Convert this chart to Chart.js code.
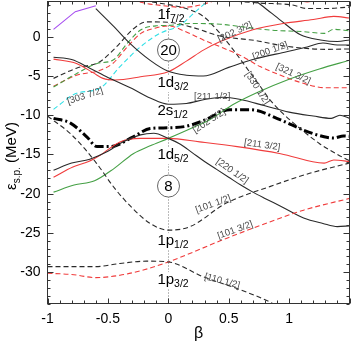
<!DOCTYPE html>
<html>
<head>
<meta charset="utf-8">
<script src="https://cdn.jsdelivr.net/npm/chart.js@4.4.1/dist/chart.umd.min.js"></script>
<style>
  html, body { margin: 0; padding: 0; background: #fff; }
</style>
</head>
<body>
<canvas id="nilsson" width="351" height="345"></canvas>
<script>
// Nilsson-type diagram: single-particle energy (MeV) against deformation beta.
// Each orbit is kept as a pair of arrays (beta, energy).

const xTicks = [-1, -0.5, 0, 0.5, 1];
const yTicks = [0, -5, -10, -15, -20, -25, -30];

const purpleBeta = [-0.95, -0.77, -0.6];
const purpleE = [0.95, 3.2, 3.95];

const s200Beta = [-0.6, -0.45, -0.32, -0.15, 0, 0.15, 0.29, 0.5, 0.7, 0.98, 1.15, 1.28, 1.4, 1.5];
const s200E = [3.6, 1.3, -0.8, -3.0, -4.4, -4.9, -5.0, -3.9, -2.9, -1.9, -1.3, -0.8, -1.05, -1.05];

const s211Beta = [-0.95, -0.8, -0.65, -0.5, -0.3, -0.15, 0, 0.15, 0.3, 0.45, 0.6, 0.8, 1.0, 1.2, 1.35, 1.42, 1.5];
const s211E = [-2.6, -2.9, -4.0, -5.2, -6.6, -7.8, -8.6, -8.5, -8.0, -7.7, -8.0, -8.8, -9.6, -10.1, -10.4, -10.0, -10.4];

const d202Beta = [-0.95, -0.76, -0.62, -0.54, -0.44, -0.23, 0, 0.15, 0.29, 0.43, 0.7, 0.95, 1.2, 1.37, 1.5];
const d202E = [-2.85, -3.4, -4.6, -5.3, -5.5, -5.1, -4.45, -3.1, -1.7, -0.6, 0.9, 1.7, 2.2, 2.6, 2.4];

const humpBeta = [-0.95, -0.76, -0.57, -0.43, -0.29, -0.18, 0, 0.2, 0.43, 0.73, 0.93, 1.12, 1.3, 1.5];
const humpE = [-5.3, -4.0, -3.2, -1.3, 1.0, 1.9, 1.85, 1.2, 0.1, -0.5, -1.1, -1.45, -1.6, -1.55];

const f321Beta = [-0.95, -0.76, -0.57, -0.46, -0.34, -0.23, -0.11, 0, 0.15, 0.29, 0.45, 0.6, 0.76, 0.93, 1.09, 1.31, 1.5];
const f321E = [-6.3, -4.9, -4.3, -3.4, -1.3, 0.4, 1.1, 1.4, 0.6, -0.4, -1.4, -2.4, -3.8, -4.9, -5.8, -6.5, -6.5];

const greenDashBeta = [-0.95, -0.76, -0.59, -0.46, -0.34, -0.23, -0.1, 0, 0.18, 0.43, 0.7, 0.85, 1.12, 1.29, 1.37, 1.5];
const greenDashE = [-6.4, -4.7, -3.4, -3.0, -0.84, 0.86, 1.4, 1.45, 1.7, 1.6, 1.1, 0.85, 0.65, 0.44, 0.95, 0.75];

const f303Beta = [-0.95, -0.76, -0.57, -0.4, -0.23, -0.07, 0.1, 0.21, 0.33];
const f303E = [-9.25, -7.2, -6.6, -3.8, -1.27, 0.44, 1.5, 3.0, 4.6];

const fermiBeta = [-0.95, -0.81, -0.675, -0.59, -0.48, -0.29, -0.15, 0, 0.15, 0.29, 0.51, 0.68, 0.93, 1.12, 1.29, 1.37, 1.45, 1.5];
const fermiE = [-10.4, -11.0, -12.75, -14.0, -14.0, -12.75, -11.7, -11.6, -11.4, -10.7, -9.3, -9.3, -10.6, -11.9, -12.75, -12.9, -12.65, -12.7];

const p101Beta = [-1, -0.8, -0.6, -0.45, -0.3, -0.15, 0, 0.18, 0.48, 0.84, 1.17, 1.5];
const p101E = [-10.1, -12.5, -16.0, -19.2, -21.8, -23.8, -24.65, -24.2, -21.2, -19.1, -17.4, -16.1];

const d220Beta = [-0.95, -0.8, -0.65, -0.5, -0.4, -0.23, -0.12, 0, 0.1, 0.2, 0.3, 0.4, 0.5, 0.6, 0.7, 0.8, 0.93, 1.12, 1.28, 1.4, 1.5];
const d220E = [-17.0, -16.1, -15.6, -14.6, -13.6, -12.5, -12.3, -12.95, -13.7, -14.8, -15.9, -16.9, -17.9, -18.9, -19.8, -20.6, -21.6, -23.1, -23.8, -24.2, -24.1];

const d211Beta = [-0.95, -0.79, -0.66, -0.565, -0.4, -0.23, 0, 0.26, 0.57, 0.93, 1.29, 1.37, 1.5];
const d211E = [-17.9, -16.6, -15.9, -15.1, -13.4, -12.95, -12.95, -13.4, -14.0, -14.9, -16.1, -15.7, -15.9];

const d205Beta = [-0.95, -0.78, -0.61, -0.45, -0.29, -0.15, 0, 0.2, 0.35, 0.54, 0.75, 1.0, 1.25, 1.5];
const d205E = [-19.8, -18.9, -18.35, -16.8, -14.9, -13.9, -12.95, -11.6, -10.5, -8.6, -7.0, -5.4, -4.1, -3.0];

const p103Beta = [-1, -0.8, -0.6, -0.4, -0.2, 0, 0.48, 0.84, 1.12, 1.5];
const p103E = [-30.15, -30.3, -30.7, -30.4, -29.7, -28.7, -25.7, -23.6, -22.1, -20.6];

const p110Beta = [-1, -0.6, -0.4, -0.18, 0, 0.29, 0.57, 0.84, 0.9];
const p110E = [-29.3, -29.3, -28.9, -28.6, -28.7, -30.6, -32.1, -33.8, -34.3];

const f330Beta = [-0.2, 0, 0.15, 0.29, 0.43, 0.54, 0.65, 0.76, 0.84, 0.95, 1.1, 1.25, 1.4, 1.5];
const f330E = [4.6, 4.1, 3.6, 2.6, 0.4, -1.7, -4.0, -6.3, -8.0, -9.8, -11.8, -13.6, -15.0, -15.8];

const f7TopBeta = [-0.3, -0.2, 0, 0.1, 0.2, 0.3, 0.4];
const f7TopE = [4.7, 4.3, 3.9, 3.75, 3.85, 4.2, 4.7];

const topSolidBeta = [0.72, 0.79, 0.93, 1.09, 1.26, 1.4, 1.5];
const topSolidE = [4.6, 3.8, 2.1, 0.3, -0.4, -0.6, -0.4];

const topDashBeta = [0.5, 0.76, 1.03, 1.15, 1.31, 1.5];
const topDashE = [4.6, 4.3, 4.05, 3.6, 3.6, 3.8];

const topRedBeta = [1.02, 1.15, 1.28];
const topRedE = [4.9, 4.45, 4.9];

// spherical levels written on the beta = 0 line
const levelNames = ['1f', '1d', '2s', '1d', '1p', '1p'];
const levelSubs = ['7/2', '3/2', '1/2', '5/2', '1/2', '3/2'];
const levelE = [2.33, -6.4, -9.98, -15.59, -26.56, -31.53];

const magicNumbers = ['20', '8'];
const magicE = [-1.69, -19.03];

// asymptotic quantum numbers written along the orbits
const orbitNames = ['[303 7/2]', '[202 3/2]', '[200 1/2]', '[321 3/2]', '[330 1/2]', '[211 1/2]',
                    '[202 5/2]', '[211 3/2]', '[220 1/2]', '[101 1/2]', '[101 3/2]', '[110 1/2]'];
const orbitBeta = [-0.689, 0.553, 0.843, 1.034, 0.736, 0.363, 0.338, 0.777, 0.529, 0.371, 0.553, 0.446];
const orbitE = [-7.55, 0.6, -1.81, -4.75, -6.53, -7.55, -10.74, -13.8, -17.12, -21.33, -24.65, -31.15];
const orbitAngle = [-18, -25, -20, 25, 57, 0, -33, 8, 35, -20, -20, 15];

const FONT = '"Liberation Sans", Arial, Helvetica, sans-serif';
const BLACK = '#2a2a2a';
const RED = '#f03c3c';
const GREEN = '#45a045';
const CYAN = '#2fe0e6';
const PURPLE = '#a64df0';
const DASH = [5, 3];

function curve(beta, energy, color, dash, width, straight) {
    return {
        data: beta.map((b, i) => ({ x: b, y: energy[i] })),
        borderColor: color,
        borderDash: dash || [],
        borderWidth: width || 1.1,
        showLine: true,
        pointRadius: 0,
        fill: false,
        tension: straight ? 0 : 0.4,
        cubicInterpolationMode: straight ? 'default' : 'monotone'
    };
}

// Draw a level label like 1d with a smaller subscript 3/2
function levelText(ctx, px, py, main, sub, measureOnly) {
    ctx.font = '15px ' + FONT;
    const w1 = ctx.measureText(main).width;
    ctx.font = '10.5px ' + FONT;
    const w2 = ctx.measureText(sub).width;
    if (!measureOnly) {
        ctx.fillStyle = '#000';
        ctx.textBaseline = 'alphabetic';
        ctx.textAlign = 'left';
        ctx.font = '15px ' + FONT;
        ctx.fillText(main, px, py);
        ctx.font = '10.5px ' + FONT;
        ctx.fillText(sub, px + w1, py + 3);
    }
    return w1 + w2;
}

const decorations = {
    id: 'decorations',
    beforeDatasetsDraw(chart) {
        const { ctx, chartArea: a, scales: { x, y } } = chart;
        const x0 = Math.round(x.getPixelForValue(0)) + 0.5;
        ctx.save();
        // dotted line at beta = 0
        ctx.strokeStyle = '#777';
        ctx.lineWidth = 1;
        ctx.setLineDash([1, 2]);
        ctx.beginPath();
        ctx.moveTo(x0, a.top);
        ctx.lineTo(x0, a.bottom);
        ctx.stroke();
        ctx.setLineDash([]);
        // white patches where labels sit on the dotted line
        ctx.fillStyle = '#fff';
        const lx = x.getPixelForValue(-0.09);
        levelNames.forEach((name, i) => {
            const py = y.getPixelForValue(levelE[i]);
            const w = levelText(ctx, lx, py, name, levelSubs[i], true);
            ctx.fillRect(lx - 1, py - 12, w + 2, 17);
        });
        magicNumbers.forEach((m, i) => {
            ctx.beginPath();
            ctx.arc(x0, y.getPixelForValue(magicE[i]), 11, 0, Math.PI * 2);
            ctx.fill();
        });
        ctx.restore();
    },
    afterDatasetsDraw(chart) {
        const { ctx, scales: { x, y } } = chart;
        const x0 = Math.round(x.getPixelForValue(0)) + 0.5;
        ctx.save();
        const lx = x.getPixelForValue(-0.09);
        levelNames.forEach((name, i) => {
            levelText(ctx, lx, y.getPixelForValue(levelE[i]), name, levelSubs[i], false);
        });
        magicNumbers.forEach((m, i) => {
            const py = y.getPixelForValue(magicE[i]);
            ctx.strokeStyle = '#666';
            ctx.lineWidth = 1;
            ctx.beginPath();
            ctx.arc(x0, py, 11, 0, Math.PI * 2);
            ctx.stroke();
            ctx.fillStyle = '#000';
            ctx.font = '15px ' + FONT;
            ctx.textAlign = 'center';
            ctx.textBaseline = 'middle';
            ctx.fillText(m, x0, py + 1);
        });
        // orbit labels
        ctx.fillStyle = '#4a4a4a';
        ctx.font = '9.5px ' + FONT;
        ctx.textAlign = 'center';
        ctx.textBaseline = 'middle';
        orbitNames.forEach((name, i) => {
            ctx.save();
            ctx.translate(x.getPixelForValue(orbitBeta[i]), y.getPixelForValue(orbitE[i]));
            ctx.rotate(orbitAngle[i] * Math.PI / 180);
            ctx.fillText(name, 0, 0);
            ctx.restore();
        });
        ctx.restore();
    },
    afterDraw(chart) {
        const { ctx, chartArea: a, scales: { x, y } } = chart;
        ctx.save();
        ctx.strokeStyle = '#333';
        ctx.lineWidth = 1;
        ctx.strokeRect(a.left, a.top, a.right - a.left, a.bottom - a.top);
        // inward ticks on all four sides
        ctx.beginPath();
        for (let k = 0; k <= 25; k++) {
            const v = -1 + k * 0.1;
            const len = k % 5 === 0 ? 5 : 3;
            const px = Math.round(x.getPixelForValue(v)) + 0.5;
            ctx.moveTo(px, a.bottom); ctx.lineTo(px, a.bottom - len);
            ctx.moveTo(px, a.top); ctx.lineTo(px, a.top + len);
        }
        for (let v = -34; v <= 4; v++) {
            const len = v % 5 === 0 ? 6 : 3;
            const py = Math.round(y.getPixelForValue(v)) + 0.5;
            ctx.moveTo(a.left, py); ctx.lineTo(a.left + len, py);
            ctx.moveTo(a.right, py); ctx.lineTo(a.right - len, py);
        }
        ctx.stroke();
        // axis titles
        ctx.fillStyle = '#000';
        ctx.textAlign = 'center';
        ctx.textBaseline = 'alphabetic';
        ctx.font = '16px ' + FONT;
        ctx.fillText('β', (a.left + a.right) / 2, 338);
        ctx.translate(16, 156);
        ctx.rotate(-Math.PI / 2);
        ctx.textAlign = 'left';
        ctx.font = '15px ' + FONT;
        const w1 = ctx.measureText('ε').width;
        const w3 = ctx.measureText(' (MeV)').width;
        ctx.font = '10px ' + FONT;
        const w2 = ctx.measureText('s.p.').width;
        const start = -(w1 + w2 + w3) / 2;
        ctx.font = '15px ' + FONT;
        ctx.fillText('ε', start, 0);
        ctx.fillText(' (MeV)', start + w1 + w2, 0);
        ctx.font = '10px ' + FONT;
        ctx.fillText('s.p.', start + w1, 4);
        ctx.restore();
    }
};

new Chart(document.getElementById('nilsson').getContext('2d'), {
    type: 'scatter',
    data: {
        datasets: [
            curve(p110Beta, p110E, BLACK, DASH),
            curve(p103Beta, p103E, RED, DASH),
            curve(p101Beta, p101E, BLACK, DASH),
            curve(d220Beta, d220E, BLACK),
            curve(d211Beta, d211E, RED),
            curve(d205Beta, d205E, GREEN),
            curve(s211Beta, s211E, BLACK),
            curve(s200Beta, s200E, BLACK),
            curve(d202Beta, d202E, RED),
            curve(topSolidBeta, topSolidE, BLACK),
            curve(topRedBeta, topRedE, RED),
            curve(f303Beta, f303E, CYAN, DASH),
            curve(greenDashBeta, greenDashE, GREEN, DASH),
            curve(f321Beta, f321E, RED, DASH),
            curve(humpBeta, humpE, BLACK, DASH),
            curve(f330Beta, f330E, BLACK, DASH),
            curve(f7TopBeta, f7TopE, RED, DASH),
            curve(topDashBeta, topDashE, BLACK, DASH),
            curve(purpleBeta, purpleE, PURPLE, [], 1.1, true),
            curve(fermiBeta, fermiE, '#000', [9, 3, 2, 3], 3)
        ]
    },
    options: {
        responsive: false,
        animation: false,
        layout: { padding: { top: 1.5, right: 1.5, left: 0, bottom: 0 } },
        plugins: { legend: { display: false }, tooltip: { enabled: false } },
        scales: {
            x: {
                type: 'linear',
                min: -1,
                max: 1.5,
                grid: { display: false, drawTicks: false },
                border: { display: false },
                afterBuildTicks: axis => { axis.ticks = xTicks.map(v => ({ value: v })); },
                afterFit: axis => {
                    axis.height = 41.5;
                    axis.paddingLeft = 0;
                    axis.paddingRight = 0;
                },
                ticks: {
                    padding: 7,
                    autoSkip: false,
                    maxRotation: 0,
                    color: '#000',
                    font: { family: FONT, size: 14 },
                    callback: v => String(v)
                }
            },
            y: {
                type: 'linear',
                min: -34,
                max: 4.5,
                grid: { display: false, drawTicks: false },
                border: { display: false },
                afterBuildTicks: axis => { axis.ticks = yTicks.map(v => ({ value: v })); },
                afterFit: axis => {
                    axis.width = 47.5;
                    axis.paddingTop = 0;
                    axis.paddingBottom = 0;
                },
                ticks: {
                    padding: 7,
                    autoSkip: false,
                    color: '#000',
                    font: { family: FONT, size: 14 },
                    callback: v => String(v)
                }
            }
        }
    },
    plugins: [decorations]
});
</script>
</body>
</html>
